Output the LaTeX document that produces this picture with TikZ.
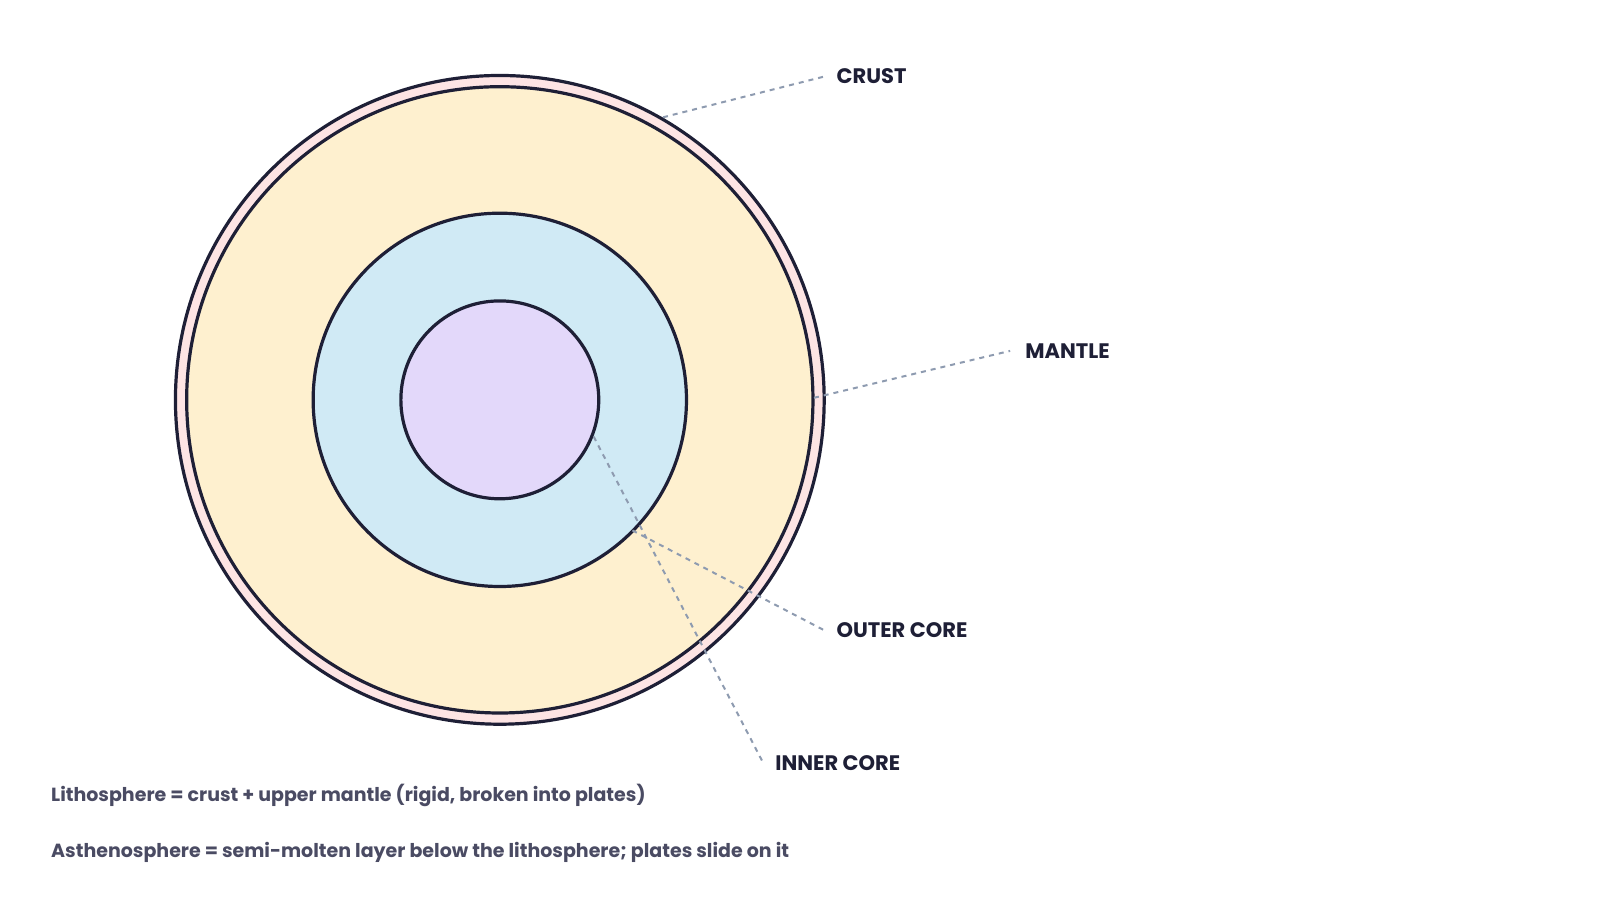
\documentclass[tikz,border=0pt]{standalone}
\usepackage{fontspec}
\setmainfont{Poppins}
\definecolor{strk}{HTML}{1E1F36}
\definecolor{leadc}{HTML}{8E9BB0}
\definecolor{notec}{HTML}{4A4B63}
\definecolor{crustc}{HTML}{FDE4E4}
\definecolor{mantc}{HTML}{FEF0CF}
\definecolor{outc}{HTML}{D0EAF5}
\definecolor{innc}{HTML}{E3D8FA}
\begin{document}
\begin{tikzpicture}[x=1.02pt,y=-1.02pt,
  ring/.style={draw=strk,line width=3.2pt},
  lead/.style={draw=leadc,line width=2pt,dash pattern=on 5pt off 5pt},
  lab/.style={anchor=west,font=\fontsize{21}{24}\selectfont\bfseries,text=strk,inner sep=0pt},
  note/.style={anchor=west,font=\fontsize{19}{22}\selectfont\bfseries,text=notec,inner sep=0pt}]
\useasboundingbox (0,0) rectangle (1568.6,881.4);
\fill[white] (0,0) rectangle (1568.6,881.4);
\coordinate (c) at (490,392);
\draw[ring,fill=crustc] (c) circle (318);
\draw[ring,fill=mantc] (c) circle (307);
\draw[ring,fill=outc] (c) circle (183);
\draw[ring,fill=innc] (c) circle (97);
\node[lab] (crust) at (820,75) {CRUST};
\node[lab] (mantle) at (1005,344) {MANTLE};
\node[lab] (outer) at (820,618) {OUTER CORE};
\node[lab] (inner) at (760,748) {INNER CORE};
\coordinate (p1) at (650,115);
\coordinate (p2) at (798,390);
\coordinate (p3) at (620,520);
\coordinate (p4) at (582,428);
\draw[lead] (p1) -- ([xshift=-12pt]crust.west);
\draw[lead] (p2) -- ([xshift=-15pt]mantle.west);
\draw[lead] (p3) -- ([xshift=-12pt]outer.west);
\draw[lead] (p4) -- ([xshift=-12pt]inner.west);
\node[note] (n1) at (50,780) {Lithosphere = crust + upper mantle (rigid, broken into plates)};
\node[note] (n2) at (50,836) {Asthenosphere = semi-molten layer below the lithosphere; plates slide on it};
\end{tikzpicture}
\end{document}
